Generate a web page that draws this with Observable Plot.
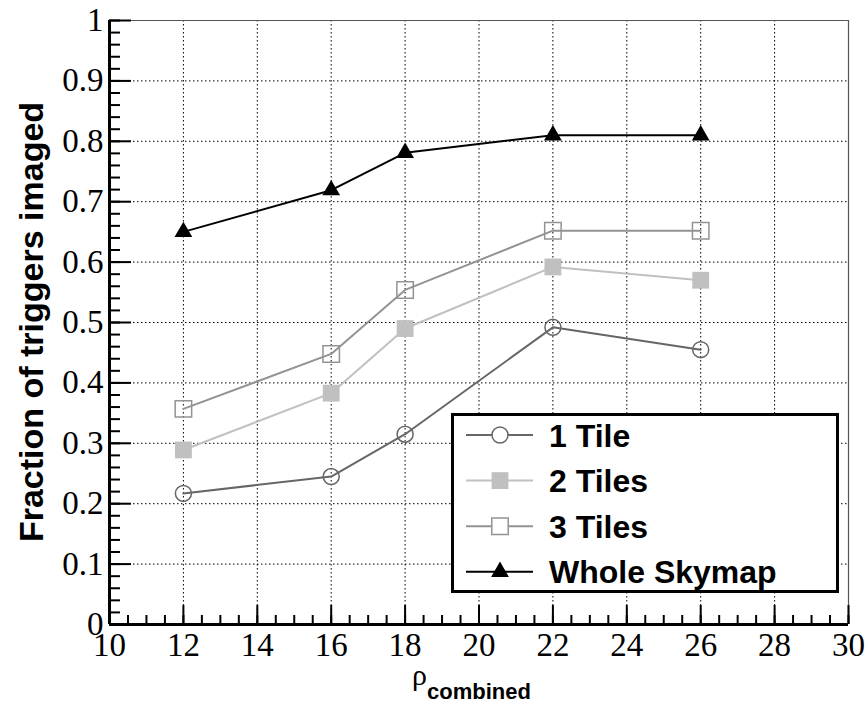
<!DOCTYPE html>
<html><head><meta charset="utf-8">
<script src="https://cdn.jsdelivr.net/npm/d3@7"></script>
<script src="https://cdn.jsdelivr.net/npm/@observablehq/plot@0.6"></script>
<style>
body{margin:0;background:#fff;}
#wrap{position:relative;width:866px;height:703px;overflow:hidden;}
#wrap > svg{position:absolute;left:0;top:0;}
</style></head><body><div id="wrap"></div>
<script>
// ---- data ----
const rho = [12, 16, 18, 22, 26];
const oneTile = [0.217, 0.245, 0.315, 0.492, 0.455];
const twoTiles = [0.289, 0.383, 0.490, 0.592, 0.570];
const threeTiles = [0.357, 0.448, 0.554, 0.652, 0.652];
const wholeSkymap = [0.650, 0.719, 0.781, 0.810, 0.810];
const seriesNames = ["1 Tile", "2 Tiles", "3 Tiles", "Whole Skymap"];
const xTickLabels = [10, 12, 14, 16, 18, 20, 22, 24, 26, 28, 30];
const yTickLabels = [0, 0.1, 0.2, 0.3, 0.4, 0.5, 0.6, 0.7, 0.8, 0.9, 1];
const xTitle = "ρ", xTitleSub = "combined";
const yTitle = "Fraction of triggers imaged";

// ---- styles ----
const styles = {
  "1 Tile":       {color: "#666666", symbol: "circle",   fill: "none",    r: 8},
  "2 Tiles":      {color: "#c0c0c0", symbol: "square",   fill: "#c0c0c0", r: 9.5},
  "3 Tiles":      {color: "#939393", symbol: "square",   fill: "none",    r: 9.3},
  "Whole Skymap": {color: "#000000", symbol: "triangle", fill: "#000000", r: 6.6}
};
const valuesBySeries = {"1 Tile": oneTile, "2 Tiles": twoTiles, "3 Tiles": threeTiles, "Whole Skymap": wholeSkymap};
const SERIF = "Liberation Serif, Times New Roman, DejaVu Serif, serif";
const SANS = "Liberation Sans, Arial, Helvetica, sans-serif";

const W = 866, H = 703;
const M = {top: 20, left: 109, right: 18, bottom: 79};
const FW = W - M.left - M.right, FH = H - M.top - M.bottom;

const xMinor = d3.range(10, 30.001, 0.5);
const yMinor = d3.range(0, 50.5, 1).map(i => +(i * 0.02).toFixed(2));

const seriesMarks = seriesNames.slice().reverse().flatMap(name => {
  const s = styles[name];
  const d = rho.map((x, i) => ({x, y: valuesBySeries[name][i]}));
  return [
    Plot.line(d, {x: "x", y: "y", stroke: s.color, strokeWidth: 2}),
    Plot.dot(d, {x: "x", y: "y", symbol: s.symbol, r: s.r,
      fill: s.fill, stroke: s.fill === "none" ? s.color : "none", strokeWidth: 1.5})
  ];
});

const grid = {stroke: "black", strokeOpacity: 1, strokeWidth: 1, strokeDasharray: "1.5,2.5"};
const tk = {stroke: "black", strokeWidth: 2};

const chart = Plot.plot({
  width: W, height: H,
  marginTop: M.top, marginLeft: M.left, marginRight: M.right, marginBottom: M.bottom,
  x: {domain: [10, 30]},
  y: {domain: [0, 1]},
  style: {background: "white", overflow: "visible"},
  marks: [
    Plot.gridX(xTickLabels.slice(1, -1), grid),
    Plot.gridY(yTickLabels.slice(1, -1), grid),
    Plot.ruleX([30], {stroke: "#555", strokeWidth: 1.2}),
    Plot.ruleY([1], {stroke: "#555", strokeWidth: 1.2}),
    ...seriesMarks,
    Plot.tickX(xMinor, {x: d => d, insetTop: FH - 9, ...tk}),
    Plot.tickX(xTickLabels, {x: d => d, insetTop: FH - 19, ...tk}),
    Plot.tickY(yMinor, {y: d => d, insetRight: FW - 11, ...tk}),
    Plot.tickY(yTickLabels, {y: d => d, insetRight: FW - 22, ...tk}),
    Plot.ruleX([10], {stroke: "black", strokeWidth: 3}),
    Plot.ruleY([0], {stroke: "black", strokeWidth: 3, x1: 10, x2: 30}),
    Plot.axisX(xTickLabels, {tickSize: 0, tickPadding: 8, fontSize: 33, fontFamily: SERIF, fill: "black", label: null, tickFormat: d => String(d)}),
    Plot.axisY(yTickLabels, {tickSize: 0, tickPadding: 6, fontSize: 33, fontFamily: SERIF, fill: "black", label: null, tickFormat: d => String(d)})
  ]
});
document.getElementById("wrap").appendChild(chart);

// ---- titles and legend ----
const ov = d3.select("#wrap").append("svg").attr("width", W).attr("height", H).style("pointer-events", "none");

ov.append("text")
  .attr("transform", `translate(43,${(M.top + H - M.bottom) / 2}) rotate(-90)`)
  .attr("text-anchor", "middle")
  .attr("font-family", SANS).attr("font-weight", "bold").attr("font-size", 34)
  .text(yTitle);

const xt = ov.append("text").attr("x", 412).attr("y", 685);
xt.append("tspan").attr("font-family", SERIF).attr("font-size", 30).text(xTitle);
xt.append("tspan").attr("dy", 14).attr("font-family", SANS).attr("font-weight", "bold").attr("font-size", 22).text(xTitleSub);

const lg = ov.append("g");
lg.append("rect").attr("x", 452.5).attr("y", 414.5).attr("width", 385).attr("height", 177)
  .attr("fill", "white").attr("stroke", "black").attr("stroke-width", 3);
const symMap = {circle: d3.symbolCircle, square: d3.symbolSquare, triangle: d3.symbolTriangle};
seriesNames.forEach((name, i) => {
  const s = styles[name];
  const cy = 435 + i * 45.6;
  lg.append("line").attr("x1", 466).attr("x2", 533).attr("y1", cy).attr("y2", cy)
    .attr("stroke", s.color).attr("stroke-width", 2);
  lg.append("path").attr("transform", `translate(500,${cy})`)
    .attr("d", d3.symbol(symMap[s.symbol], Math.PI * s.r * s.r)())
    .attr("fill", s.fill === "none" ? "white" : s.fill)
    .attr("stroke", s.fill === "none" ? s.color : "none").attr("stroke-width", 1.5);
  lg.append("text").attr("x", 549).attr("y", cy + 11.5)
    .attr("font-family", SANS).attr("font-weight", "bold").attr("font-size", 32).text(name);
});
</script></body></html>
